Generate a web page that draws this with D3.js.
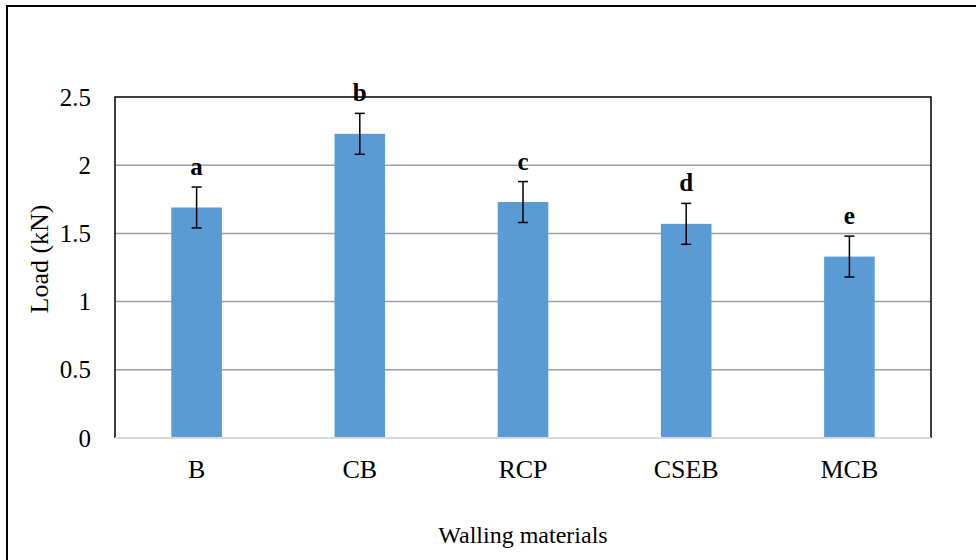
<!DOCTYPE html>
<html>
<head>
<meta charset="utf-8">
<script src="https://cdn.jsdelivr.net/npm/d3@7"></script>
<style>
  body { margin: 0; background: #fff; }
  text { font-family: "Liberation Serif", "Times New Roman", serif; fill: #000; }
</style>
</head>
<body>
<div id="chart"></div>
<script>
// chart data
var materials = ["B", "CB", "RCP", "CSEB", "MCB"];
var loads = [1.69, 2.23, 1.73, 1.57, 1.33];
var errors = [0.15, 0.15, 0.15, 0.15, 0.15];
var groupLetters = ["a", "b", "c", "d", "e"];
var yTicks = [0, 0.5, 1, 1.5, 2, 2.5];

var svgWidth = 976;
var svgHeight = 560;

var chartMargin = { top: 97, right: 45, bottom: 122, left: 115 };
var chartWidth = svgWidth - chartMargin.left - chartMargin.right;
var chartHeight = svgHeight - chartMargin.top - chartMargin.bottom;

var svg = d3.select("#chart")
  .append("svg")
  .attr("width", svgWidth)
  .attr("height", svgHeight);

// outer frame (runs off the right and bottom edges)
svg.append("rect")
  .attr("x", 7)
  .attr("y", 6)
  .attr("width", 1000)
  .attr("height", 600)
  .attr("fill", "none")
  .attr("stroke", "#000")
  .attr("stroke-width", 2);

var chartGroup = svg.append("g")
  .attr("transform", `translate(${chartMargin.left}, ${chartMargin.top})`);

var xScale = d3.scaleBand()
  .domain(materials)
  .range([0, chartWidth])
  .paddingInner(0.69)
  .paddingOuter(0.345);

var yScale = d3.scaleLinear()
  .domain([0, 2.5])
  .range([chartHeight, 0]);

// gridlines
chartGroup.selectAll(".grid")
  .data(yTicks.filter(d => d > 0 && d < 2.5))
  .enter()
  .append("line")
  .attr("x1", 0)
  .attr("x2", chartWidth)
  .attr("y1", d => yScale(d))
  .attr("y2", d => yScale(d))
  .attr("stroke", "#a0a0a0")
  .attr("stroke-width", 1.5);

// bars
chartGroup.selectAll(".bar")
  .data(loads)
  .enter()
  .append("rect")
  .attr("x", (d, i) => xScale(materials[i]))
  .attr("y", d => yScale(d))
  .attr("width", xScale.bandwidth())
  .attr("height", d => chartHeight - yScale(d))
  .attr("fill", "#5b9bd5");

// error bars
var errGroup = chartGroup.selectAll(".err")
  .data(loads)
  .enter()
  .append("g")
  .attr("stroke", "#000")
  .attr("stroke-width", 1.5);

errGroup.append("line")
  .attr("x1", (d, i) => xScale(materials[i]) + xScale.bandwidth() / 2)
  .attr("x2", (d, i) => xScale(materials[i]) + xScale.bandwidth() / 2)
  .attr("y1", (d, i) => yScale(d + errors[i]))
  .attr("y2", (d, i) => yScale(d - errors[i]));

[1, -1].forEach(function(sign) {
  errGroup.append("line")
    .attr("x1", (d, i) => xScale(materials[i]) + xScale.bandwidth() / 2 - 5)
    .attr("x2", (d, i) => xScale(materials[i]) + xScale.bandwidth() / 2 + 5)
    .attr("y1", (d, i) => yScale(d + sign * errors[i]))
    .attr("y2", (d, i) => yScale(d + sign * errors[i]));
});

// significance letters
chartGroup.selectAll(".letter")
  .data(loads)
  .enter()
  .append("text")
  .attr("x", (d, i) => xScale(materials[i]) + xScale.bandwidth() / 2)
  .attr("y", (d, i) => yScale(d + errors[i]) - 12)
  .attr("text-anchor", "middle")
  .style("font-size", "25px")
  .style("font-weight", "bold")
  .text((d, i) => groupLetters[i]);

// plot frame: black top, left, right; light grey baseline
chartGroup.append("path")
  .attr("d", `M0,${chartHeight}V0H${chartWidth}V${chartHeight}`)
  .attr("fill", "none")
  .attr("stroke", "#000")
  .attr("stroke-width", 1.5);

chartGroup.append("line")
  .attr("x1", 0)
  .attr("x2", chartWidth)
  .attr("y1", chartHeight)
  .attr("y2", chartHeight)
  .attr("stroke", "#d9d9d9")
  .attr("stroke-width", 2);

// axes (labels only)
var leftAxis = d3.axisLeft(yScale)
  .tickValues(yTicks)
  .tickFormat(d3.format("~g"))
  .tickSize(0)
  .tickPadding(24);

var yAxisG = chartGroup.append("g").call(leftAxis);
yAxisG.select(".domain").remove();
yAxisG.selectAll("text")
  .style("font-family", "Liberation Serif, Times New Roman, serif")
  .style("font-size", "25px")
  .attr("fill", "#000");

var bottomAxis = d3.axisBottom(xScale)
  .tickSize(0)
  .tickPadding(22);

var xAxisG = chartGroup.append("g")
  .attr("transform", `translate(0, ${chartHeight})`)
  .call(bottomAxis);
xAxisG.select(".domain").remove();
xAxisG.selectAll("text")
  .style("font-family", "Liberation Serif, Times New Roman, serif")
  .style("font-size", "26px")
  .attr("fill", "#000");

// axis titles
chartGroup.append("text")
  .attr("transform", "rotate(-90)")
  .attr("x", -162)
  .attr("y", 48 - chartMargin.left)
  .attr("text-anchor", "middle")
  .style("font-size", "26px")
  .text("Load (kN)");

svg.append("text")
  .attr("x", chartMargin.left + chartWidth / 2)
  .attr("y", 543)
  .attr("text-anchor", "middle")
  .style("font-size", "24px")
  .text("Walling materials");
</script>
</body>
</html>
